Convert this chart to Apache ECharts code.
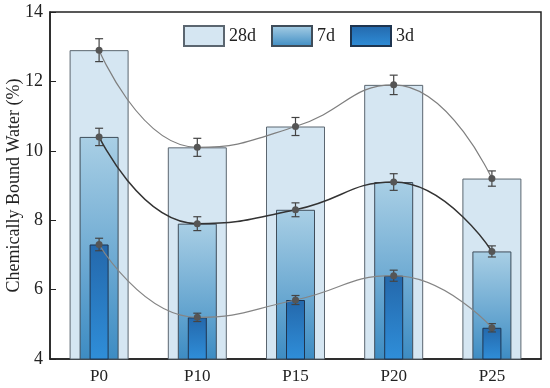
<!DOCTYPE html>
<html><head><meta charset="utf-8">
<script src="https://cdn.jsdelivr.net/npm/echarts@6/dist/echarts.min.js"></script>
<style>html,body{margin:0;padding:0;background:#fff}#c{width:550px;height:388px}</style>
</head><body><div id="c"></div>
<script>
const categories = ['P0','P10','P15','P20','P25'];
const d28 = [12.9, 10.1, 10.7, 11.9, 9.2];
const d7  = [10.4, 7.9, 8.3, 9.1, 7.1];
const d3  = [7.3, 5.2, 5.7, 6.4, 4.9];
const e28 = [0.33, 0.26, 0.26, 0.28, 0.22];
const e7  = [0.25, 0.2, 0.2, 0.24, 0.16];
const e3  = [0.18, 0.12, 0.13, 0.16, 0.12];
const yTicks = [4, 6, 8, 10, 12, 14];

const font = "'Liberation Serif', 'Times New Roman', Times, serif";
const chart = echarts.init(document.getElementById('c'));
const grad = (a,b)=>new echarts.graphic.LinearGradient(0,0,0,1,[{offset:0,color:a},{offset:1,color:b}]);

function errSeries(vals, errs){
  return {
    type:'custom', xAxisIndex:0, yAxisIndex:0, z:10,
    data: vals.map((v,i)=>[i, v, errs[i]]),
    renderItem:(params, api)=>{
      const x = api.value(0), v = api.value(1), e = api.value(2);
      const hi = api.coord([x, v+e]), lo = api.coord([x, v-e]);
      const w = 4;
      const st = {stroke:'#444', lineWidth:1.2};
      return {type:'group', children:[
        {type:'line', shape:{x1:hi[0],y1:hi[1],x2:lo[0],y2:lo[1]}, style:st},
        {type:'line', shape:{x1:hi[0]-w,y1:hi[1],x2:hi[0]+w,y2:hi[1]}, style:st},
        {type:'line', shape:{x1:lo[0]-w,y1:lo[1],x2:lo[0]+w,y2:lo[1]}, style:st}
      ]};
    }
  };
}
function lineSeries(vals, color, w){
  return {type:'line', xAxisIndex:0, yAxisIndex:0, z:11, data:vals, smooth:0.5,
    symbol:'circle', symbolSize:7, lineStyle:{color:color, width:w},
    itemStyle:{color:'#555'}, emphasis:{disabled:true}};
}
const xBase = {type:'category', data:categories, boundaryGap:true};
chart.setOption({
  animation:false,
  grid:{left:50, right:9, top:12, bottom:29, show:true, borderColor:'#222', borderWidth:1.5,
    containLabel:false, outerBoundsMode:'none'},
  legend:{left:178, top:20, itemWidth:40, itemHeight:20, itemGap:15, icon:'rect',
    data:['28d','7d','3d'], textStyle:{fontFamily:font, fontSize:18, color:'#222'}},
  xAxis:[
    Object.assign({}, xBase, {axisLine:{lineStyle:{color:'#222', width:1.5}},
      axisTick:{inside:true, alignWithLabel:true, length:6, lineStyle:{color:'#222'}},
      axisLabel:{fontFamily:font, fontSize:17, color:'#222', margin:9}}),
    Object.assign({}, xBase, {show:false}),
    Object.assign({}, xBase, {show:false})
  ],
  yAxis:{type:'value', min:4, max:14, interval:2,
    name:'Chemically Bound Water (%)', nameLocation:'middle', nameGap:27, nameMoveOverlap:false,
    nameTextStyle:{fontFamily:font, fontSize:18, color:'#222'},
    axisLine:{show:true, lineStyle:{color:'#222', width:1.5}},
    axisTick:{show:true, inside:true, length:6, lineStyle:{color:'#222'}},
    axisLabel:{fontFamily:font, fontSize:18, color:'#222', margin:7,
      formatter:v=>yTicks.includes(v)?String(v):''},
    splitLine:{show:false}},
  series:[
    {name:'28d', type:'bar', xAxisIndex:0, data:d28, barWidth:59, z:2,
      itemStyle:{color:'#d5e6f2', borderColor:'#5b6670', borderWidth:1}},
    {name:'7d', type:'bar', xAxisIndex:1, data:d7, barWidth:39, z:3,
      itemStyle:{color:grad('#a9cfe5','#3d8cc3'), borderColor:'#3f4d5a', borderWidth:1}},
    {name:'3d', type:'bar', xAxisIndex:2, data:d3, barWidth:19, z:4,
      itemStyle:{color:grad('#2468ab','#2f8ed9'), borderColor:'#1e3550', borderWidth:1}},
    lineSeries(d28, '#7f7f7f', 1.2),
    lineSeries(d7, '#333333', 1.5),
    lineSeries(d3, '#858585', 1.2),
    errSeries(d28, e28), errSeries(d7, e7), errSeries(d3, e3)
  ]
});
</script></body></html>
